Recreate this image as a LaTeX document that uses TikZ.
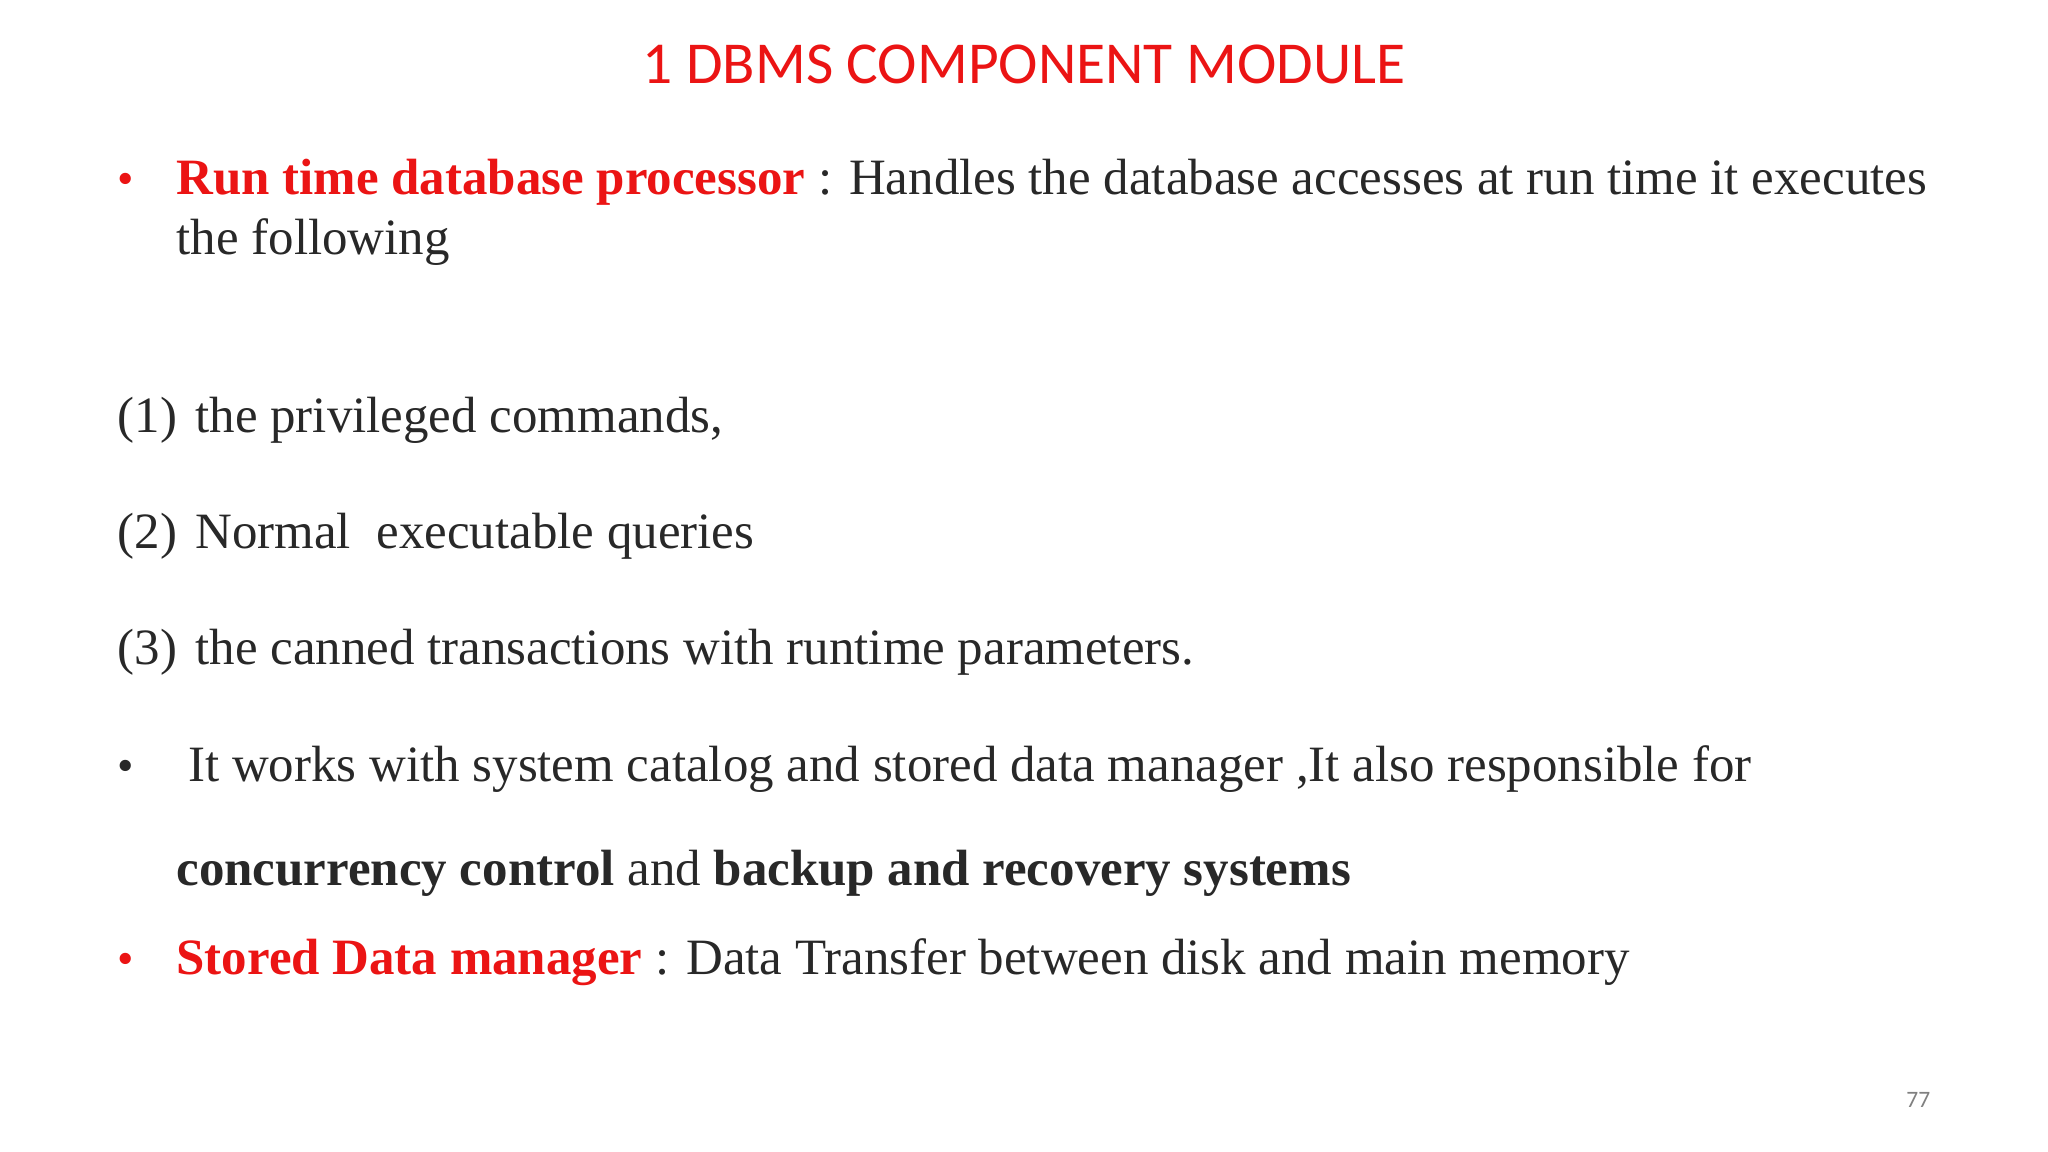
\documentclass[tikz,border=0pt]{standalone}
\usepackage{fontspec}
\setmainfont{Liberation Serif}
\newfontfamily\titlefont{Carlito}
\definecolor{myred}{RGB}{235,20,20}
\definecolor{mytext}{RGB}{40,40,40}
\begin{document}
\begin{tikzpicture}[x=1pt,y=-1pt,
  body/.style={anchor=base west,inner sep=0pt,text=mytext,font=\fontsize{39}{43}\selectfont},
  bul/.style={anchor=base west,inner sep=0pt,font=\fontsize{36}{40}\selectfont}]
\useasboundingbox (0,0) rectangle (1568,882);
\fill[white] (0,0) rectangle (1568,882);
\node[anchor=base,inner sep=0pt,text=myred,font=\titlefont\fontsize{45.5}{50}\selectfont] (title) at (784,64) {1 DBMS COMPONENT MODULE};
\node[bul,text=myred] (b1) at (90,149) {•};
\node[body] (l1) at (135,149) {\textcolor{myred}{\textbf{Run time database processor}} : Handles the database accesses at run time it executes};
\node[body] (l2) at (135,195) {the following};
\node[body] (n1) at (90,331) {(1)\hspace{14pt}the privileged commands,};
\node[body] (n2) at (90,420) {(2)\hspace{14pt}Normal\ \ executable queries};
\node[body] (n3) at (90,509) {(3)\hspace{14pt}the canned transactions with runtime parameters.};
\node[bul,text=mytext] (b2) at (90,598) {•};
\node[body] (l3) at (144,598) {It works with system catalog and stored data manager ,It also responsible for};
\node[body] (l4) at (135,678) {\textbf{concurrency control} and \textbf{backup and recovery systems}};
\node[bul,text=myred] (b3) at (90,746) {•};
\node[body] (l5) at (135,746) {\textcolor{myred}{\textbf{Stored Data manager}} : Data Transfer between disk and main memory};
\node[anchor=base east,inner sep=0pt,text=gray,font=\titlefont\fontsize{18}{20}\selectfont] (pg) at (1478,848) {77};
\end{tikzpicture}
\end{document}
